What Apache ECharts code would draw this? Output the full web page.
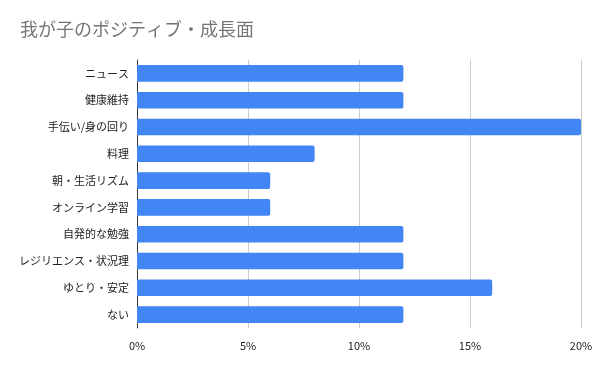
<!DOCTYPE html>
<html><head><meta charset="utf-8">
<script src="https://cdn.jsdelivr.net/npm/echarts@6/dist/echarts.min.js"></script>
<style>html,body{margin:0;padding:0;background:#fff}#c{width:600px;height:371px}</style>
</head><body><div id="c"></div>
<script>
const title = "我が子のポジティブ・成長面";
const categories = ["ニュース","健康維持","手伝い/身の回り","料理","朝・生活リズム","オンライン学習","自発的な勉強","レジリエンス・状況理","ゆとり・安定","ない"];
const values = [12,12,20,8,6,6,12,12,16,12];
const xTicks = [0,5,10,15,20];

const chart = echarts.init(document.getElementById('c'), null, {renderer:'canvas'});
const font = '"Noto Sans CJK JP", "Noto Sans", Roboto, sans-serif';
chart.setOption({
  animation:false,
  backgroundColor:'#fff',
  textStyle:{fontFamily:font},
  title:{text:title,left:15,top:15,textStyle:{fontSize:18,fontWeight:'normal',color:'#757575',fontFamily:font}},
  grid:{left:137,right:19,top:60,bottom:43,containLabel:false},
  xAxis:{type:'value',min:xTicks[0],max:xTicks[xTicks.length-1],interval:5,
    axisLine:{show:false},axisTick:{show:false},
    splitLine:{lineStyle:{color:'#cccccc',width:1}},
    axisLabel:{formatter:v=>v+'%',color:'#222',fontSize:11,margin:12,fontFamily:font}},
  yAxis:{type:'category',data:categories,inverse:true,
    axisLine:{show:true,lineStyle:{color:'#333',width:1}},axisTick:{show:false},
    axisLabel:{color:'#222',fontSize:11,margin:8,fontFamily:font}},
  series:[{type:'bar',data:values,barWidth:'62%',itemStyle:{color:'#4285f4',borderRadius:[0,2,2,0]}}]
});
</script></body></html>
